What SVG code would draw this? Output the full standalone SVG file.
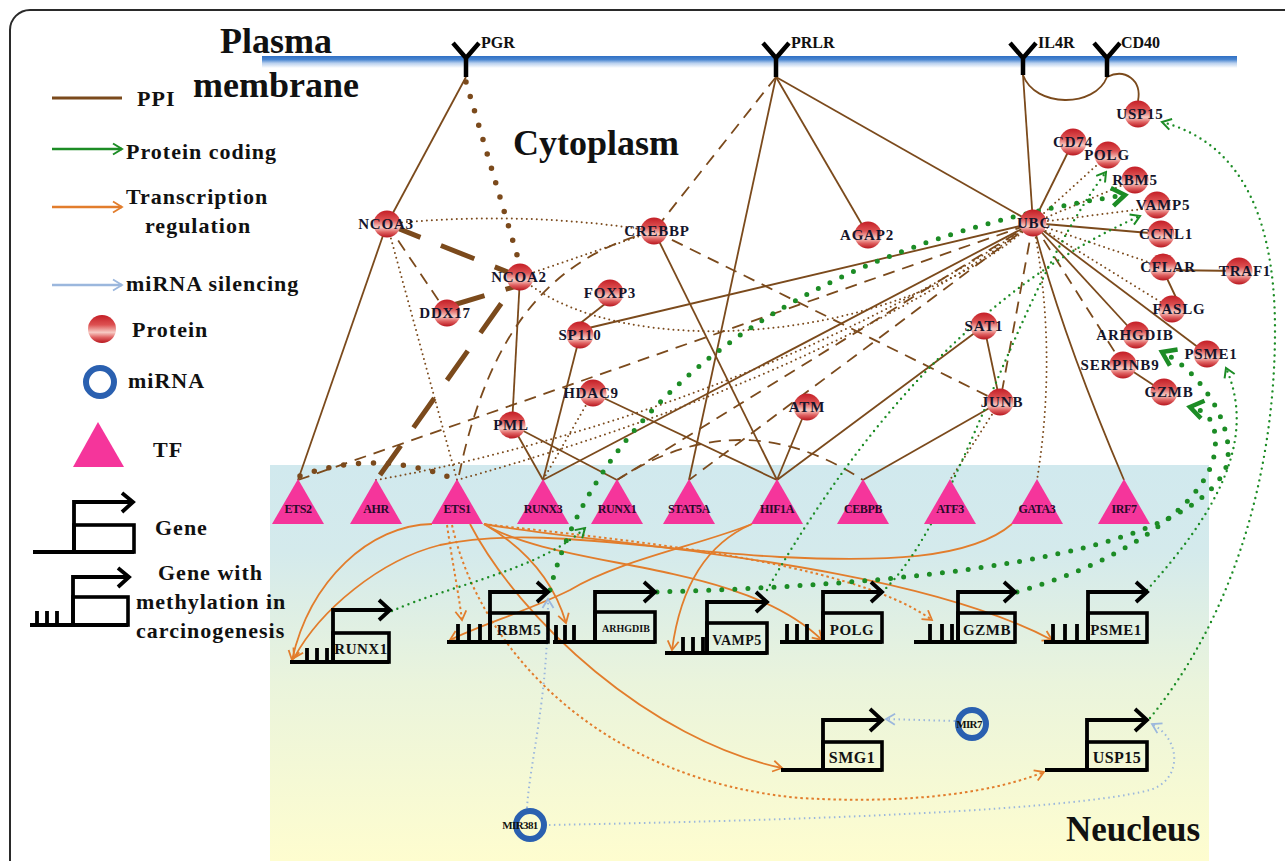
<svg xmlns="http://www.w3.org/2000/svg" width="1285" height="861" viewBox="0 0 1285 861">
<defs>
<linearGradient id="sph" x1="0" y1="0" x2="0" y2="1">
<stop offset="0" stop-color="#c41e26"/><stop offset="0.35" stop-color="#dd5152"/><stop offset="0.62" stop-color="#f7cbc4"/><stop offset="0.8" stop-color="#e06262"/><stop offset="1" stop-color="#b7151d"/>
</linearGradient>
<linearGradient id="nuc" x1="0" y1="0" x2="0" y2="1">
<stop offset="0" stop-color="#d1e9ee"/><stop offset="0.22" stop-color="#d4eaec"/><stop offset="0.55" stop-color="#eaf4dc"/><stop offset="1" stop-color="#fefdcf"/>
</linearGradient>
<linearGradient id="mem" x1="0" y1="0" x2="0" y2="1">
<stop offset="0" stop-color="#2f6fc4"/><stop offset="0.3" stop-color="#4a86d0"/><stop offset="0.6" stop-color="#b9d0ee"/><stop offset="1" stop-color="#ffffff"/>
</linearGradient>
<marker id="ao" markerUnits="userSpaceOnUse" markerWidth="14" markerHeight="14" viewBox="0 0 14 14" refX="12" refY="7" orient="auto"><path d="M3,1.5 L12,7 L3,12.5" fill="none" stroke="#e27d2c" stroke-width="1.8"/></marker>
<marker id="ag" markerUnits="userSpaceOnUse" markerWidth="14" markerHeight="14" viewBox="0 0 14 14" refX="12" refY="7" orient="auto"><path d="M3,1.5 L12,7 L3,12.5" fill="none" stroke="#1c8c25" stroke-width="2"/></marker>
<marker id="agT" markerUnits="userSpaceOnUse" markerWidth="22" markerHeight="22" viewBox="0 0 22 22" refX="17" refY="11" orient="auto"><path d="M4,2 L17,11 L4,20" fill="none" stroke="#1c8c25" stroke-width="4.5"/></marker>
<marker id="ab" markerUnits="userSpaceOnUse" markerWidth="14" markerHeight="14" viewBox="0 0 14 14" refX="12" refY="7" orient="auto"><path d="M3,1.5 L12,7 L3,12.5" fill="none" stroke="#9bb7dd" stroke-width="1.8"/></marker>
</defs>
<style>
.b{fill:none;stroke:#7b4a1c;stroke-width:1.8}
.bd{stroke-dasharray:12 8}
.bt{stroke-dasharray:0 5;stroke-linecap:round;stroke-width:2}
.bh{stroke-width:5;stroke-dasharray:36 22}
.bhd{stroke-width:5.5;stroke-dasharray:0 15;stroke-linecap:round}
.g{fill:none;stroke:#1c8c25;stroke-width:2.4;stroke-dasharray:0 6;stroke-linecap:round}
.gb{fill:none;stroke:#1c8c25;stroke-width:5;stroke-dasharray:0 13;stroke-linecap:round}
.o{fill:none;stroke:#e27d2c;stroke-width:1.8}
.od{stroke-dasharray:2.5 3;stroke-width:2}
.m{fill:none;stroke:#9bb7dd;stroke-width:2;stroke-dasharray:1.5 3.5}
.prot{fill:url(#sph)}
.tf{fill:#f5359b}
.rec{fill:none;stroke:#000;stroke-width:4.5}
.gene{fill:none;stroke:#000;stroke-width:3.8}
.gbox{fill:none;stroke:#000;stroke-width:3.6}
.mir{fill:none;stroke:#2a60b0;stroke-width:6}
.pl{font:bold 15px "Liberation Serif",serif;text-anchor:middle;letter-spacing:.8px;fill:#15152b}
.tl{font:bold 12px "Liberation Serif",serif;text-anchor:middle;letter-spacing:-.4px;fill:#2a0a2a}
.rl{font:bold 16px "Liberation Serif",serif;fill:#111}
.gl{font:bold 15px "Liberation Serif",serif;text-anchor:middle;letter-spacing:.5px;fill:#111}
.ml{font:bold 11px "Liberation Serif",serif;text-anchor:middle;letter-spacing:-.6px;fill:#111}
.leg{font:bold 22px "Liberation Serif",serif;letter-spacing:1px;fill:#111}
.big{font:bold 36px "Liberation Serif",serif;fill:#111}
</style>
<rect width="1285" height="861" fill="#fff"/>
<rect x="10" y="10" width="1300" height="900" rx="20" fill="none" stroke="#2a2a2a" stroke-width="2"/>
<rect x="270" y="465" width="939" height="396" fill="url(#nuc)"/>
<rect x="262" y="56" width="975" height="12" fill="url(#mem)"/>

<g id="titles">
<text x="220" y="53" class="big">Plasma</text>
<text x="193" y="97" class="big">membrane</text>
<text x="513" y="155" class="big">Cytoplasm</text>
<text x="1066" y="841" class="big" style="font-size:35px">Neucleus</text>
</g>

<g id="legend">
<line x1="52" y1="98" x2="122" y2="98" stroke="#7b4a1c" stroke-width="3"/>
<text x="137" y="106" class="leg">PPI</text>
<line x1="52" y1="149" x2="122" y2="149" stroke="#1c8c25" stroke-width="2.5" marker-end="url(#ag)"/>
<text x="126" y="159" class="leg">Protein coding</text>
<line x1="52" y1="207" x2="122" y2="207" stroke="#e27d2c" stroke-width="2.5" marker-end="url(#ao)"/>
<text x="126" y="204" class="leg">Transcription</text>
<text x="145" y="233" class="leg">regulation</text>
<line x1="52" y1="285" x2="122" y2="285" stroke="#9bb7dd" stroke-width="2.5" marker-end="url(#ab)"/>
<text x="126" y="291" class="leg">miRNA silencing</text>
<circle cx="102" cy="329" r="14" class="prot"/>
<text x="132" y="337" class="leg">Protein</text>
<circle cx="100" cy="382" r="14" class="mir"/>
<text x="128" y="388" class="leg">miRNA</text>
<polygon points="98,422 73,467 124,467" class="tf"/>
<text x="153" y="457" class="leg">TF</text>
<path class="gene" d="M33,552 H134 M74,552 V502 H132 M122,493 L133,502 L122,512"/>
<rect x="74" y="525" width="60" height="27" class="gbox"/>
<text x="155" y="535" class="leg">Gene</text>
<path class="gene" d="M30,625 H128 M73,625 V577 H128 M118,568 L129,577 L118,587 M37,625 V611 M47,625 V611 M57,625 V611"/>
<rect x="73" y="597" width="55" height="28" class="gbox"/>
<text x="158" y="580" class="leg">Gene with</text>
<text x="136" y="609" class="leg">methylation in</text>
<text x="136" y="638" class="leg">carcinogenesis</text>
</g>

<g id="connectors">
<!-- PPI solid -->
<path class="b" d="M466,77 L387,224"/>
<path class="b" d="M387,224 L298,480"/>
<path class="b" d="M776,77 L1033,223"/>
<path class="b" d="M776,77 L868,235"/>
<path class="b" d="M776,77 L689,480"/>
<path class="b" d="M1023,75 L1033,223"/>
<path class="b" d="M1023,75 C1035,108 1095,108 1107,77"/>
<path class="b" d="M1107,77 C1125,68 1142,80 1138,101"/>
<path class="b" d="M1033,223 L1073,142"/>
<path class="b" d="M1033,223 L1161,234"/>
<path class="b" d="M1163,270 L1239,271"/>
<path class="b" d="M1163,270 L1180,306"/>
<path class="b" d="M1033,223 L1136,335"/>
<path class="b" d="M1033,223 L1207,354"/>
<path class="b" d="M1033,223 Q1060,330 1124,480"/>
<path class="b" d="M1123,365 L1164,392"/>
<path class="b" d="M654,231 L777,480"/>
<path class="b" d="M520,277 L512,425"/>
<path class="b" d="M512,425 L617,480"/>
<path class="b" d="M512,425 L543,480"/>
<path class="b" d="M580,335 L543,480"/>
<path class="b" d="M580,330 L1033,223"/>
<path class="b" d="M610,300 L578,325"/>
<path class="b" d="M593,393 L777,480"/>
<path class="b" d="M807,407 L777,480"/>
<path class="b" d="M984,326 L777,480"/>
<path class="b" d="M984,326 L1000,402"/>
<path class="b" d="M1000,402 L863,480"/>
<path class="b" d="M1033,223 L543,480"/>
<!-- PPI dashed -->
<path class="b bd" d="M776,77 L654,231"/>
<path class="b bd" d="M654,231 C560,255 490,320 458,480"/>
<path class="b bd" d="M387,224 L447,313"/>
<path class="b bd" d="M654,231 L1000,402"/>
<path class="b bd" d="M298,480 L1033,223"/>
<path class="b bd" d="M1033,223 L617,480"/>
<path class="b bd" d="M1033,223 L689,480"/>
<path class="b bd" d="M1033,223 L1000,402"/>
<path class="b bd" d="M1033,223 L1123,365"/>
<path class="b bd" d="M617,480 Q740,400 863,480"/>
<!-- PPI heavy -->
<path class="b bh" d="M387,224 L520,277"/>
<path class="b bh" d="M380,475 L520,277"/>
<path class="b bh" d="M450,306 L520,285"/>
<path class="b bhd" d="M466,82 L520,265"/>
<path class="b bhd" d="M300,476 Q378,448 457,480"/>
<!-- PPI dotted -->
<path class="b bt" d="M387,224 Q520,210 654,231"/>
<path class="b bt" d="M520,277 L654,231"/>
<path class="b bt" d="M387,224 L457,480"/>
<path class="b bt" d="M520,277 C620,365 900,345 1033,223"/>
<path class="b bt" d="M376,480 C520,455 800,380 1033,223"/>
<path class="b bt" d="M457,480 C600,440 850,360 1033,223"/>
<path class="b bt" d="M593,393 L543,480"/>
<path class="b bt" d="M1033,223 L1108,155"/>
<path class="b bt" d="M1033,223 L1135,180"/>
<path class="b bt" d="M1033,223 L1150,208"/>
<path class="b bt" d="M1033,223 L1163,267"/>
<path class="b bt" d="M1033,223 L1172,309"/>
<path class="b bt" d="M1033,223 Q1058,350 1037,480"/>
<path class="b bt" d="M1000,402 L950,480"/>
<!-- transcription regulation -->
<path class="o" d="M432,524 C370,525 310,580 292,660" marker-end="url(#ao)"/>
<path class="o" d="M1012,524 C970,560 880,562 780,557 C650,550 530,525 440,545 C380,560 320,610 294,658" marker-end="url(#ao)"/>
<path class="o od" d="M447,525 C452,560 458,590 462,620" marker-end="url(#ao)"/>
<path class="o" d="M752,524 C700,545 620,560 570,590 C530,610 480,625 450,640" marker-end="url(#ao)"/>
<path class="o" d="M484,524 C520,545 552,575 566,623" marker-end="url(#ao)"/>
<path class="o" d="M752,524 C715,540 682,575 672,650" marker-end="url(#ao)"/>
<path class="o" d="M484,524 C560,570 740,560 822,640" marker-end="url(#ao)"/>
<path class="o od" d="M484,524 C620,540 850,560 932,620" marker-end="url(#ao)"/>
<path class="o" d="M484,524 C600,545 900,560 1052,640" marker-end="url(#ao)"/>
<path class="o" d="M470,524 C520,620 650,740 782,768" marker-end="url(#ao)"/>
<path class="o od" d="M452,525 C480,650 600,780 800,798 C920,805 1000,790 1044,772" marker-end="url(#ao)"/>
<!-- protein coding -->
<path class="g" d="M392,611 C450,585 540,570 585,528" marker-end="url(#ag)"/>
<path class="g" d="M767,590 C830,480 950,300 1140,216" marker-end="url(#ag)"/>
<path class="g" d="M882,592 C960,520 1010,300 1106,172" marker-end="url(#ag)"/>
<path class="g" d="M1150,718 C1230,620 1275,480 1275,330 C1275,200 1230,140 1162,122" marker-end="url(#ag)"/>
<path class="g" d="M1147,590 C1200,530 1262,450 1226,368" marker-end="url(#ag)"/>
<path class="gb" d="M550,590 C590,430 760,250 1125,195" marker-end="url(#agT)"/>
<path class="gb" d="M657,592 C900,585 1180,560 1225,470 C1240,430 1200,370 1162,352" marker-end="url(#agT)"/>
<path class="gb" d="M1017,592 C1130,560 1210,500 1215,450 C1218,420 1205,410 1190,407" marker-end="url(#agT)"/>
<!-- miRNA silencing -->
<path class="m" d="M955,721 L886,719" marker-end="url(#ab)"/>
<path class="m" d="M549,825 C700,822 1050,815 1150,790 C1182,780 1182,740 1152,724" marker-end="url(#ab)"/>
<path class="m" d="M527,808 C530,760 548,700 548,599" marker-end="url(#ab)"/>
</g>

<g id="receptors">
<g id="r-PGR"><path class="rec" d="M453,43 L466,58 L479,43 M466,58 V77"/><text x="481" y="48" class="rl">PGR</text></g>
<g id="r-PRLR"><path class="rec" d="M763,43 L776,58 L789,43 M776,58 V77"/><text x="791" y="48" class="rl">PRLR</text></g>
<g id="r-IL4R"><path class="rec" d="M1010,43 L1023,58 L1036,43 M1023,58 V75"/><text x="1038" y="48" class="rl">IL4R</text></g>
<g id="r-CD40"><path class="rec" d="M1094,43 L1107,58 L1120,43 M1107,58 V77"/><text x="1121" y="48" class="rl">CD40</text></g>
</g>

<g id="proteins">
<g id="n-NCOA3"><circle cx="387" cy="224" r="13.5" class="prot"/><text x="386" y="229" class="pl">NCOA3</text></g>
<g id="n-NCOA2"><circle cx="520" cy="277" r="13.5" class="prot"/><text x="519" y="282" class="pl">NCOA2</text></g>
<g id="n-DDX17"><circle cx="447" cy="313" r="13.5" class="prot"/><text x="445" y="318" class="pl">DDX17</text></g>
<g id="n-FOXP3"><circle cx="610" cy="293" r="13.5" class="prot"/><text x="610" y="298" class="pl">FOXP3</text></g>
<g id="n-CREBBP"><circle cx="654" cy="231" r="13.5" class="prot"/><text x="657" y="236" class="pl">CREBBP</text></g>
<g id="n-SP110"><circle cx="580" cy="335" r="13.5" class="prot"/><text x="580" y="340" class="pl">SP110</text></g>
<g id="n-HDAC9"><circle cx="593" cy="393" r="13.5" class="prot"/><text x="591" y="398" class="pl">HDAC9</text></g>
<g id="n-PML"><circle cx="512" cy="425" r="13.5" class="prot"/><text x="511" y="430" class="pl">PML</text></g>
<g id="n-ATM"><circle cx="807" cy="407" r="13.5" class="prot"/><text x="807" y="412" class="pl">ATM</text></g>
<g id="n-AGAP2"><circle cx="868" cy="235" r="13.5" class="prot"/><text x="867" y="240" class="pl">AGAP2</text></g>
<g id="n-SAT1"><circle cx="984" cy="326" r="13.5" class="prot"/><text x="984" y="331" class="pl">SAT1</text></g>
<g id="n-JUNB"><circle cx="1000" cy="402" r="13.5" class="prot"/><text x="1002" y="407" class="pl">JUNB</text></g>
<g id="n-UBC"><circle cx="1033" cy="223" r="13.5" class="prot"/><text x="1034" y="228" class="pl">UBC</text></g>
<g id="n-CD74"><circle cx="1073" cy="142" r="13.5" class="prot"/><text x="1073" y="147" class="pl">CD74</text></g>
<g id="n-POLG"><circle cx="1108" cy="155" r="13.5" class="prot"/><text x="1107" y="160" class="pl">POLG</text></g>
<g id="n-RBM5"><circle cx="1135" cy="180" r="13.5" class="prot"/><text x="1135" y="185" class="pl">RBM5</text></g>
<g id="n-VAMP5"><circle cx="1157" cy="205" r="13.5" class="prot"/><text x="1163" y="210" class="pl">VAMP5</text></g>
<g id="n-CCNL1"><circle cx="1161" cy="234" r="13.5" class="prot"/><text x="1166" y="239" class="pl">CCNL1</text></g>
<g id="n-USP15"><circle cx="1138" cy="114" r="13.5" class="prot"/><text x="1140" y="119" class="pl">USP15</text></g>
<g id="n-CFLAR"><circle cx="1163" cy="267" r="13.5" class="prot"/><text x="1168" y="272" class="pl">CFLAR</text></g>
<g id="n-TRAF1"><circle cx="1239" cy="271" r="13.5" class="prot"/><text x="1245" y="276" class="pl">TRAF1</text></g>
<g id="n-FASLG"><circle cx="1172" cy="309" r="13.5" class="prot"/><text x="1179" y="314" class="pl">FASLG</text></g>
<g id="n-ARHGDIB"><circle cx="1136" cy="335" r="13.5" class="prot"/><text x="1135" y="340" class="pl">ARHGDIB</text></g>
<g id="n-PSME1"><circle cx="1207" cy="354" r="13.5" class="prot"/><text x="1211" y="359" class="pl">PSME1</text></g>
<g id="n-SERPINB9"><circle cx="1123" cy="365" r="13.5" class="prot"/><text x="1120" y="370" class="pl">SERPINB9</text></g>
<g id="n-GZMB"><circle cx="1164" cy="392" r="13.5" class="prot"/><text x="1169" y="397" class="pl">GZMB</text></g>
</g>

<g id="tfs">
<g id="tf-ETS2"><polygon points="298,479 272,524 324,524" class="tf"/><text x="298" y="513" class="tl">ETS2</text></g>
<g id="tf-AHR"><polygon points="376,479 350,524 402,524" class="tf"/><text x="376" y="513" class="tl">AHR</text></g>
<g id="tf-ETS1"><polygon points="457,479 431,524 483,524" class="tf"/><text x="457" y="513" class="tl">ETS1</text></g>
<g id="tf-RUNX3"><polygon points="543,479 517,524 569,524" class="tf"/><text x="543" y="513" class="tl">RUNX3</text></g>
<g id="tf-RUNX1"><polygon points="617,479 591,524 643,524" class="tf"/><text x="617" y="513" class="tl">RUNX1</text></g>
<g id="tf-STAT5A"><polygon points="689,479 663,524 715,524" class="tf"/><text x="689" y="513" class="tl">STAT5A</text></g>
<g id="tf-HIF1A"><polygon points="777,479 751,524 803,524" class="tf"/><text x="777" y="513" class="tl">HIF1A</text></g>
<g id="tf-CEBPB"><polygon points="863,479 837,524 889,524" class="tf"/><text x="863" y="513" class="tl">CEBPB</text></g>
<g id="tf-ATF3"><polygon points="950,479 924,524 976,524" class="tf"/><text x="950" y="513" class="tl">ATF3</text></g>
<g id="tf-GATA3"><polygon points="1037,479 1011,524 1063,524" class="tf"/><text x="1037" y="513" class="tl">GATA3</text></g>
<g id="tf-IRF7"><polygon points="1124,479 1098,524 1150,524" class="tf"/><text x="1124" y="513" class="tl">IRF7</text></g>
</g>

<g id="genes">
<g id="g-RUNX1"><path class="gene" d="M290,662 H389 M333,662 V610 H389 M379,600 L390,610 L379,620 M307,662 V648 M317,662 V648 M327,662 V648"/><rect x="333" y="633" width="56" height="29" class="gbox"/><text x="361" y="654" class="gl">RUNX1</text></g>
<g id="g-RBM5"><path class="gene" d="M447,642 H548 M490,642 V592 H547 M537,582 L548,592 L537,602 M458,642 V624 M469,642 V624 M480,642 V624"/><rect x="490" y="613" width="58" height="29" class="gbox"/><text x="519" y="635" class="gl">RBM5</text></g>
<g id="g-ARHGDIB"><path class="gene" d="M553,642 H655 M595,642 V592 H654 M644,582 L655,592 L644,602 M556,642 V625 M565,642 V625 M574,642 V625"/><rect x="595" y="612" width="60" height="30" class="gbox"/><text x="626" y="632" class="gl" style="font-size:10px;letter-spacing:0">ARHGDIB</text></g>
<g id="g-VAMP5"><path class="gene" d="M665,653 H767 M707,653 V602 H766 M756,592 L767,602 L756,612 M683,653 V637 M693,653 V637 M703,653 V637"/><rect x="707" y="623" width="60" height="30" class="gbox"/><text x="737" y="645" class="gl" style="font-size:14px">VAMP5</text></g>
<g id="g-POLG"><path class="gene" d="M780,642 H882 M823,642 V592 H881 M871,582 L882,592 L871,602 M787,642 V624 M797,642 V624 M807,642 V624"/><rect x="823" y="613" width="59" height="29" class="gbox"/><text x="852" y="635" class="gl">POLG</text></g>
<g id="g-GZMB"><path class="gene" d="M914,642 H1015 M958,642 V592 H1014 M1004,582 L1015,592 L1004,602 M930,642 V624 M942,642 V624 M952,642 V624"/><rect x="958" y="613" width="57" height="29" class="gbox"/><text x="987" y="635" class="gl">GZMB</text></g>
<g id="g-PSME1"><path class="gene" d="M1044,642 H1147 M1088,642 V592 H1146 M1136,582 L1147,592 L1136,602 M1053,642 V624 M1065,642 V624 M1077,642 V624"/><rect x="1088" y="613" width="59" height="29" class="gbox"/><text x="1116" y="635" class="gl">PSME1</text></g>
<g id="g-SMG1"><path class="gene" d="M781,770 H882 M823,770 V720 H881 M870,709 L882,720 L870,731"/><rect x="823" y="742" width="59" height="28" class="gbox"/><text x="852" y="763" class="gl" style="font-size:16px">SMG1</text></g>
<g id="g-USP15"><path class="gene" d="M1045,770 H1147 M1087,770 V720 H1146 M1135,709 L1147,720 L1135,731"/><rect x="1087" y="742" width="60" height="28" class="gbox"/><text x="1117" y="763" class="gl" style="font-size:16px">USP15</text></g>
</g>

<g id="mirnas">
<g id="m-MIR7"><circle cx="972" cy="724" r="14" class="mir"/><text x="969" y="728" class="ml">MIR7</text></g>
<g id="m-MIR381"><circle cx="530" cy="825" r="14" class="mir"/><text x="520" y="829" class="ml">MIR381</text></g>
</g>
</svg>
